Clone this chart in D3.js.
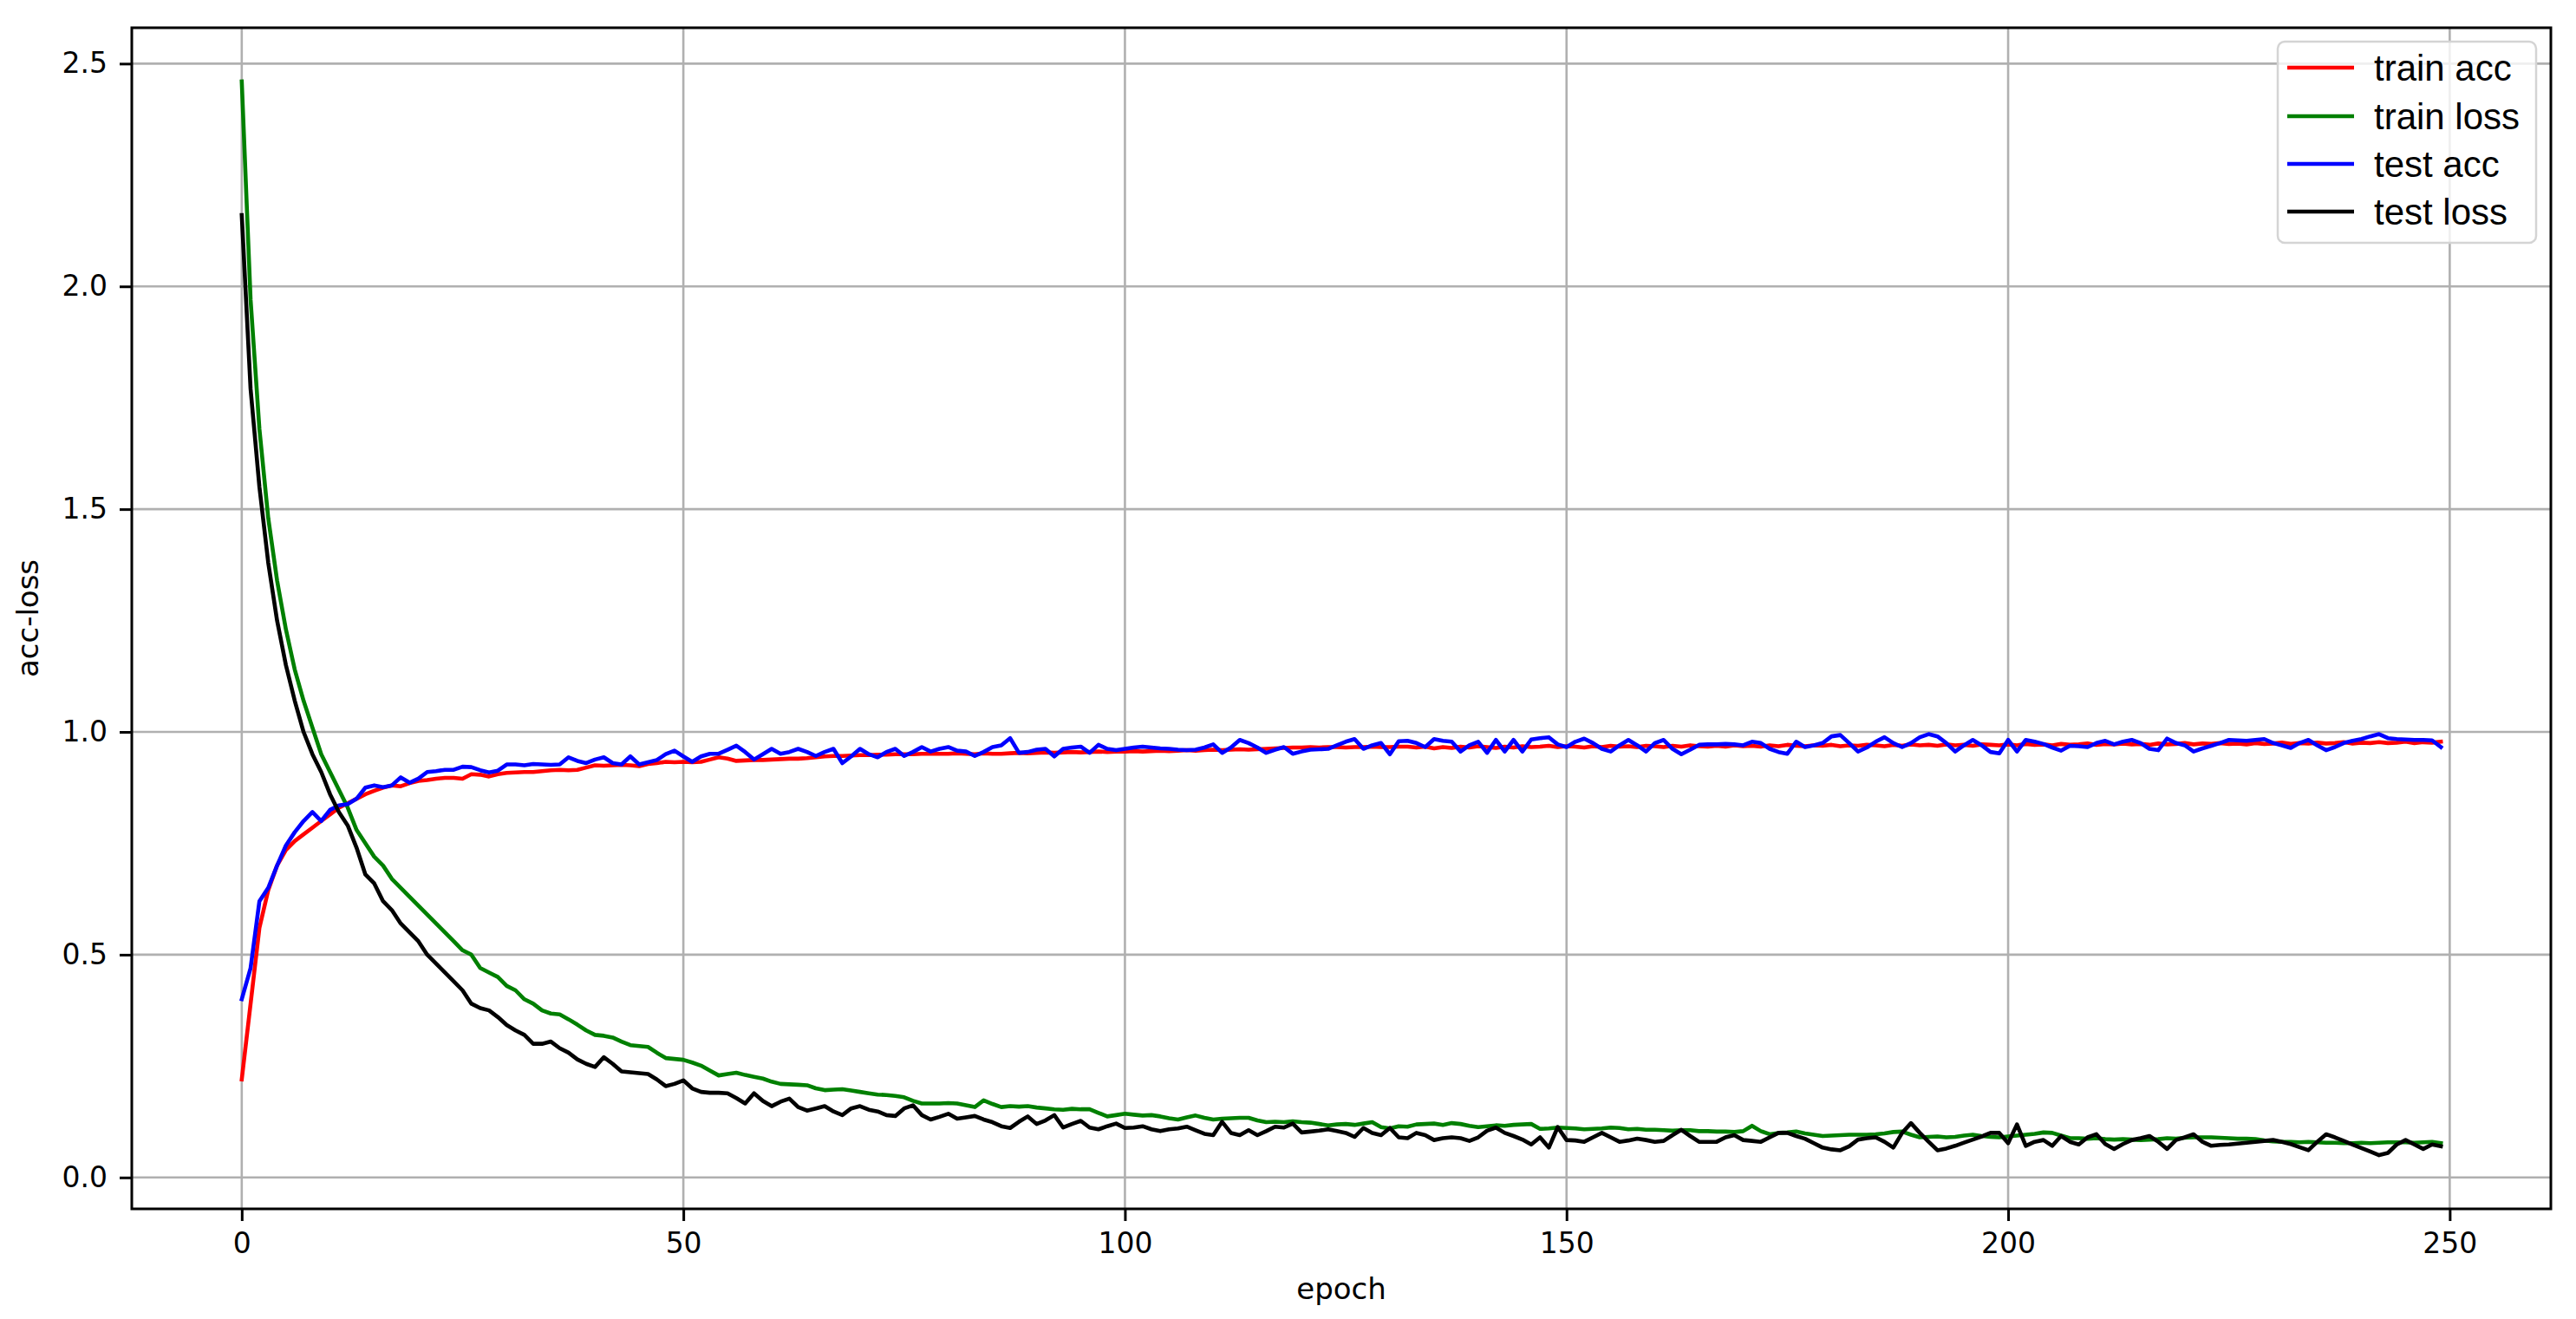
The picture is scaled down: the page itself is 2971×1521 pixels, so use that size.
<!DOCTYPE html>
<html>
<head>
<meta charset="utf-8">
<script src="https://cdn.jsdelivr.net/npm/d3@7"></script>
<style>
  html, body { margin: 0; padding: 0; background: #fff; }
  svg { display: block; }
</style>
</head>
<body>
<svg id="chart" width="2971" height="1521"></svg>
<script>
// ---------------- DATA ----------------
const seriesNames = ["train acc", "train loss", "test acc", "test loss"];
const seriesColors = ["#ff0000", "#008000", "#0000ff", "#000000"];
const xTicks = [0, 50, 100, 150, 200, 250];
const yTicks = [0.0, 0.5, 1.0, 1.5, 2.0, 2.5];
const xLabel = "epoch";
const yLabel = "acc-loss";

const trainAcc = [
  0.22, 0.39, 0.56, 0.645, 0.70, 0.735, 0.755, 0.77, 0.785, 0.80,
  0.815, 0.83, 0.84, 0.85, 0.86, 0.868, 0.875, 0.88, 0.878, 0.885,
  0.89, 0.892, 0.895, 0.897, 0.897, 0.895, 0.905, 0.904, 0.90, 0.905,
  0.908, 0.909, 0.91, 0.91, 0.912, 0.914, 0.915, 0.914, 0.915, 0.92,
  0.925, 0.924, 0.925, 0.926, 0.925, 0.923, 0.928, 0.93, 0.933, 0.932,
  0.933, 0.932, 0.933, 0.938, 0.943, 0.94, 0.935, 0.936, 0.937, 0.937,
  0.938, 0.939, 0.94, 0.94, 0.941, 0.943, 0.945, 0.946, 0.946, 0.947,
  0.948, 0.948, 0.949, 0.949, 0.95, 0.95, 0.95, 0.951, 0.951, 0.951,
  0.951, 0.952, 0.951, 0.95, 0.952, 0.951, 0.951, 0.952, 0.953, 0.952,
  0.953, 0.954, 0.953, 0.954, 0.955, 0.954, 0.955, 0.956, 0.955, 0.956,
  0.956, 0.957, 0.956, 0.957, 0.958, 0.957, 0.958, 0.959, 0.958, 0.959,
  0.96, 0.959, 0.96, 0.961, 0.96, 0.961, 0.962, 0.963, 0.964, 0.965,
  0.965, 0.966, 0.965, 0.966, 0.966, 0.965, 0.966, 0.966, 0.967, 0.966,
  0.966, 0.967, 0.967, 0.965, 0.967, 0.963, 0.966, 0.964, 0.967, 0.965,
  0.968, 0.966, 0.964, 0.967, 0.965, 0.968, 0.966, 0.967, 0.969, 0.966,
  0.968, 0.967, 0.965, 0.968, 0.966, 0.969, 0.967, 0.968, 0.966, 0.969,
  0.968, 0.966, 0.969, 0.967, 0.97, 0.968, 0.967, 0.969, 0.967, 0.97,
  0.968, 0.969, 0.967, 0.97, 0.968, 0.971, 0.969, 0.968, 0.97, 0.969,
  0.971, 0.968, 0.97, 0.969, 0.971, 0.97, 0.968, 0.971, 0.969, 0.972,
  0.97, 0.971, 0.969, 0.972, 0.97, 0.971, 0.969, 0.972, 0.971, 0.97,
  0.972, 0.97, 0.973, 0.971, 0.972, 0.97, 0.973, 0.971, 0.972, 0.974,
  0.971, 0.973, 0.972, 0.974, 0.972, 0.973, 0.971, 0.974, 0.972, 0.973,
  0.975, 0.972, 0.974, 0.973, 0.975, 0.973, 0.974, 0.972, 0.975, 0.973,
  0.974, 0.976, 0.973, 0.975, 0.974, 0.976, 0.974, 0.975, 0.977, 0.974,
  0.976, 0.975, 0.977, 0.975, 0.976, 0.978, 0.975, 0.977, 0.976, 0.978
];

const trainLoss = [
  2.46, 1.97, 1.68, 1.48, 1.34, 1.23, 1.14, 1.07, 1.01, 0.95,
  0.91, 0.87, 0.83, 0.78, 0.75, 0.72, 0.70, 0.67, 0.65, 0.63,
  0.61, 0.59, 0.57, 0.55, 0.53, 0.51, 0.50, 0.47, 0.46, 0.45,
  0.43, 0.42, 0.40, 0.39, 0.375, 0.368, 0.366, 0.355, 0.343, 0.33,
  0.32, 0.318, 0.314, 0.305, 0.297, 0.295, 0.293, 0.28, 0.268, 0.266,
  0.264, 0.258, 0.251, 0.24, 0.229, 0.232, 0.235, 0.23, 0.226, 0.222,
  0.215, 0.21, 0.209, 0.208, 0.207, 0.2, 0.196, 0.197, 0.198, 0.195,
  0.192, 0.189, 0.186, 0.185, 0.183, 0.18, 0.172, 0.166, 0.166, 0.166,
  0.167, 0.166, 0.162, 0.158, 0.173, 0.165, 0.158, 0.16, 0.159, 0.16,
  0.157, 0.155, 0.153, 0.152, 0.154, 0.153, 0.153, 0.145, 0.137, 0.14,
  0.143, 0.141, 0.139, 0.14, 0.137, 0.133, 0.13, 0.135, 0.139, 0.134,
  0.13, 0.132, 0.133, 0.134, 0.134, 0.128, 0.124, 0.125, 0.124, 0.126,
  0.124, 0.123, 0.12, 0.117, 0.119, 0.12, 0.118, 0.121, 0.124, 0.113,
  0.11, 0.115, 0.114, 0.119, 0.12, 0.121, 0.118, 0.122, 0.12, 0.116,
  0.113, 0.115, 0.117, 0.116, 0.118, 0.119, 0.12, 0.109, 0.11, 0.112,
  0.111, 0.11, 0.108, 0.109, 0.11, 0.112, 0.111, 0.108, 0.109, 0.107,
  0.107, 0.106, 0.105, 0.106, 0.106, 0.104, 0.104, 0.103, 0.103, 0.102,
  0.104, 0.116, 0.104, 0.097, 0.1, 0.101, 0.103, 0.099, 0.096, 0.093,
  0.094, 0.095, 0.096, 0.096, 0.096, 0.097, 0.099, 0.102, 0.103, 0.096,
  0.09, 0.091, 0.092, 0.09, 0.091, 0.094, 0.096, 0.093, 0.091, 0.09,
  0.092, 0.094, 0.096, 0.098, 0.101, 0.1, 0.094, 0.088, 0.088, 0.087,
  0.088, 0.086, 0.085, 0.086, 0.085, 0.084, 0.085, 0.086, 0.088, 0.087,
  0.089, 0.09, 0.09, 0.09, 0.089, 0.088, 0.087, 0.087, 0.086, 0.083,
  0.081, 0.08, 0.08, 0.079, 0.08, 0.079, 0.078, 0.078, 0.077, 0.077,
  0.078, 0.077, 0.078, 0.079, 0.079, 0.079, 0.078, 0.079, 0.08, 0.077
];

const testAcc = [
  0.40, 0.47, 0.62, 0.65, 0.70, 0.745, 0.775, 0.80, 0.82, 0.80,
  0.825, 0.835, 0.838, 0.85, 0.875, 0.88, 0.876, 0.88, 0.898, 0.886,
  0.895, 0.91, 0.912, 0.915, 0.915, 0.922, 0.921, 0.914, 0.909, 0.913,
  0.927, 0.927, 0.925, 0.928, 0.927, 0.926, 0.927, 0.943, 0.935, 0.93,
  0.938, 0.943, 0.93, 0.927, 0.945, 0.927, 0.932, 0.937, 0.95, 0.958,
  0.945, 0.933, 0.945, 0.951, 0.951, 0.96, 0.969, 0.955, 0.938, 0.95,
  0.962, 0.951, 0.955, 0.962, 0.955, 0.946, 0.955, 0.962, 0.93, 0.945,
  0.962, 0.95, 0.943, 0.955, 0.962, 0.946, 0.955, 0.966, 0.956, 0.962,
  0.966, 0.958, 0.956, 0.946, 0.955, 0.966, 0.97, 0.986, 0.953, 0.955,
  0.96, 0.962, 0.945, 0.962, 0.965, 0.967, 0.953, 0.971, 0.962, 0.959,
  0.962, 0.965, 0.967, 0.965, 0.963, 0.962, 0.96, 0.959, 0.96, 0.965,
  0.972, 0.953, 0.965, 0.982, 0.975, 0.965, 0.953, 0.96, 0.966, 0.951,
  0.956, 0.96, 0.961, 0.962, 0.97, 0.978, 0.984, 0.962, 0.97, 0.975,
  0.95, 0.979, 0.98, 0.975, 0.966, 0.984, 0.98, 0.978, 0.956, 0.97,
  0.978, 0.953, 0.982, 0.956, 0.982, 0.956, 0.983, 0.986, 0.988, 0.972,
  0.966, 0.978, 0.985, 0.975, 0.962, 0.956, 0.97, 0.982, 0.97, 0.956,
  0.975, 0.982, 0.962, 0.95, 0.96, 0.971, 0.972, 0.972, 0.973, 0.972,
  0.97, 0.978, 0.975, 0.962, 0.955, 0.951, 0.978, 0.966, 0.97, 0.975,
  0.99, 0.993, 0.975, 0.956, 0.965, 0.978, 0.988, 0.975, 0.966, 0.975,
  0.988, 0.995, 0.99, 0.975, 0.956, 0.97, 0.982, 0.97, 0.955, 0.952,
  0.982, 0.956, 0.982, 0.978, 0.973, 0.965, 0.958, 0.969, 0.968, 0.966,
  0.975, 0.98, 0.972, 0.978, 0.982, 0.975, 0.962, 0.959, 0.985, 0.975,
  0.97, 0.956, 0.963, 0.969, 0.975, 0.982, 0.981, 0.98, 0.982, 0.984,
  0.975, 0.97, 0.964, 0.975, 0.982, 0.97, 0.959, 0.966, 0.975, 0.98,
  0.984, 0.99, 0.995, 0.986, 0.984, 0.983, 0.982, 0.982, 0.981, 0.966
];

const testLoss = [
  2.16, 1.77, 1.55, 1.38, 1.25, 1.15, 1.07, 1.00, 0.95, 0.91,
  0.86, 0.82, 0.79, 0.74, 0.68, 0.66, 0.62, 0.60, 0.57, 0.55,
  0.53, 0.50, 0.48, 0.46, 0.44, 0.42, 0.39, 0.38, 0.375, 0.36,
  0.342, 0.33, 0.32, 0.30, 0.30, 0.305, 0.29, 0.28, 0.265, 0.255,
  0.248, 0.27, 0.255, 0.238, 0.236, 0.234, 0.232, 0.22, 0.205, 0.21,
  0.218, 0.2, 0.192, 0.19, 0.19, 0.189, 0.178, 0.166, 0.189, 0.172,
  0.16, 0.17, 0.177, 0.158, 0.15, 0.155, 0.16, 0.148, 0.14, 0.155,
  0.16, 0.152, 0.148, 0.14, 0.138, 0.155, 0.162, 0.14, 0.13, 0.136,
  0.143, 0.132, 0.135, 0.138, 0.13, 0.124, 0.115, 0.111, 0.125, 0.137,
  0.12, 0.128, 0.14, 0.112, 0.12, 0.127, 0.112, 0.108, 0.115, 0.121,
  0.111, 0.112, 0.115, 0.108, 0.104, 0.108, 0.11, 0.114, 0.106, 0.098,
  0.095, 0.125, 0.1, 0.095, 0.106, 0.095, 0.104, 0.114, 0.112, 0.121,
  0.101, 0.103, 0.105, 0.108, 0.104, 0.1, 0.091, 0.111, 0.1, 0.095,
  0.111, 0.09, 0.088, 0.1, 0.095, 0.084, 0.088, 0.09, 0.088, 0.082,
  0.09, 0.105, 0.112, 0.1, 0.093, 0.085, 0.074, 0.09, 0.067, 0.113,
  0.084, 0.083, 0.08, 0.09, 0.1, 0.09, 0.08, 0.083, 0.087, 0.084,
  0.08, 0.082, 0.095, 0.107, 0.093, 0.08, 0.08, 0.08, 0.09, 0.095,
  0.084, 0.082, 0.08, 0.09, 0.1, 0.1, 0.093, 0.087, 0.077, 0.067,
  0.063, 0.061, 0.07, 0.085, 0.088, 0.09, 0.08, 0.067, 0.1, 0.122,
  0.1, 0.08, 0.061, 0.065, 0.071, 0.078, 0.085, 0.092, 0.1, 0.1,
  0.077, 0.119, 0.071, 0.08, 0.084, 0.071, 0.093, 0.08, 0.074, 0.09,
  0.097, 0.075, 0.064, 0.075, 0.084, 0.088, 0.093, 0.08, 0.064, 0.084,
  0.09, 0.097, 0.08, 0.071, 0.073, 0.074, 0.076, 0.078, 0.08, 0.082,
  0.084, 0.08, 0.075, 0.068, 0.061, 0.08, 0.097, 0.09, 0.082, 0.074,
  0.066, 0.058, 0.05, 0.055, 0.074, 0.084, 0.074, 0.064, 0.074, 0.07
];

// ---------------- CHART ----------------
const allSeries = [trainAcc, trainLoss, testAcc, testLoss];
const W = 2971, H = 1521;
const plot = { left: 152, top: 32, right: 2942, bottom: 1394 };

const nPts = trainAcc.length;
const xMin = 0, xMax = nPts - 1;
const xPad = (xMax - xMin) * 0.05;
const allVals = allSeries.flat();
const yLo = d3.min(allVals), yHi = d3.max(allVals);
const yPad = (yHi - yLo) * 0.05;

const x = d3.scaleLinear().domain([xMin - xPad, xMax + xPad]).range([plot.left, plot.right]);
const y = d3.scaleLinear().domain([yLo - yPad, yHi + yPad]).range([plot.bottom, plot.top]);

const svg = d3.select("#chart");
svg.append("rect").attr("width", W).attr("height", H).attr("fill", "#fff");

const tickFont = "'DejaVu Sans', sans-serif";

// grid
const grid = svg.append("g");
grid.selectAll("line.gx").data(xTicks).enter().append("line")
  .attr("x1", d => x(d)).attr("x2", d => x(d))
  .attr("y1", plot.top).attr("y2", plot.bottom)
  .attr("stroke", "#b0b0b0").attr("stroke-width", 2.6);
grid.selectAll("line.gy").data(yTicks).enter().append("line")
  .attr("y1", d => y(d)).attr("y2", d => y(d))
  .attr("x1", plot.left).attr("x2", plot.right)
  .attr("stroke", "#b0b0b0").attr("stroke-width", 2.6);

// lines
const line = d3.line().x((d, i) => x(i)).y(d => y(d));
allSeries.forEach((s, k) => {
  svg.append("path").datum(s)
    .attr("d", line)
    .attr("fill", "none")
    .attr("stroke", seriesColors[k])
    .attr("stroke-width", 4.6)
    .attr("stroke-linejoin", "round")
    .attr("stroke-linecap", "square");
});

// spines
svg.append("rect")
  .attr("x", plot.left).attr("y", plot.top)
  .attr("width", plot.right - plot.left).attr("height", plot.bottom - plot.top)
  .attr("fill", "none").attr("stroke", "#000").attr("stroke-width", 3);

// axes
const xAxis = d3.axisBottom(x).tickValues(xTicks).tickFormat(d3.format("d"))
  .tickSize(14).tickPadding(14);
const gx = svg.append("g").attr("transform", `translate(0,${plot.bottom})`).call(xAxis);
gx.select(".domain").remove();
gx.selectAll(".tick line").attr("stroke", "#000").attr("stroke-width", 3);
gx.selectAll(".tick text").attr("font-family", tickFont).attr("font-size", 33).attr("fill", "#000");

const yAxis = d3.axisLeft(y).tickValues(yTicks).tickFormat(d3.format(".1f"))
  .tickSize(14).tickPadding(14);
const gy = svg.append("g").attr("transform", `translate(${plot.left},0)`).call(yAxis);
gy.select(".domain").remove();
gy.selectAll(".tick line").attr("stroke", "#000").attr("stroke-width", 3);
gy.selectAll(".tick text").attr("font-family", tickFont).attr("font-size", 33).attr("fill", "#000");

// axis labels
svg.append("text")
  .attr("x", (plot.left + plot.right) / 2).attr("y", 1498)
  .attr("text-anchor", "middle")
  .attr("font-family", tickFont).attr("font-size", 34).attr("fill", "#000")
  .text(xLabel);
svg.append("text")
  .attr("transform", `translate(44,${(plot.top + plot.bottom) / 2}) rotate(-90)`)
  .attr("text-anchor", "middle")
  .attr("font-family", tickFont).attr("font-size", 34).attr("fill", "#000")
  .text(yLabel);

// legend
const lg = svg.append("g").attr("transform", "translate(2627,48)");
lg.append("rect")
  .attr("x", 0).attr("y", 0).attr("width", 298).attr("height", 232)
  .attr("rx", 8).attr("ry", 8)
  .attr("fill", "#fff").attr("fill-opacity", 0.8)
  .attr("stroke", "#d4d4d4").attr("stroke-width", 2.5);
const rowY = [30, 86, 141, 196];
seriesNames.forEach((name, k) => {
  lg.append("line")
    .attr("x1", 11).attr("x2", 88)
    .attr("y1", rowY[k]).attr("y2", rowY[k])
    .attr("stroke", seriesColors[k]).attr("stroke-width", 4.6);
  lg.append("text")
    .attr("x", 111).attr("y", rowY[k] + 15)
    .attr("font-family", "'Liberation Sans', Arial, sans-serif")
    .attr("font-size", 42).attr("fill", "#000")
    .text(name);
});
</script>
</body>
</html>
